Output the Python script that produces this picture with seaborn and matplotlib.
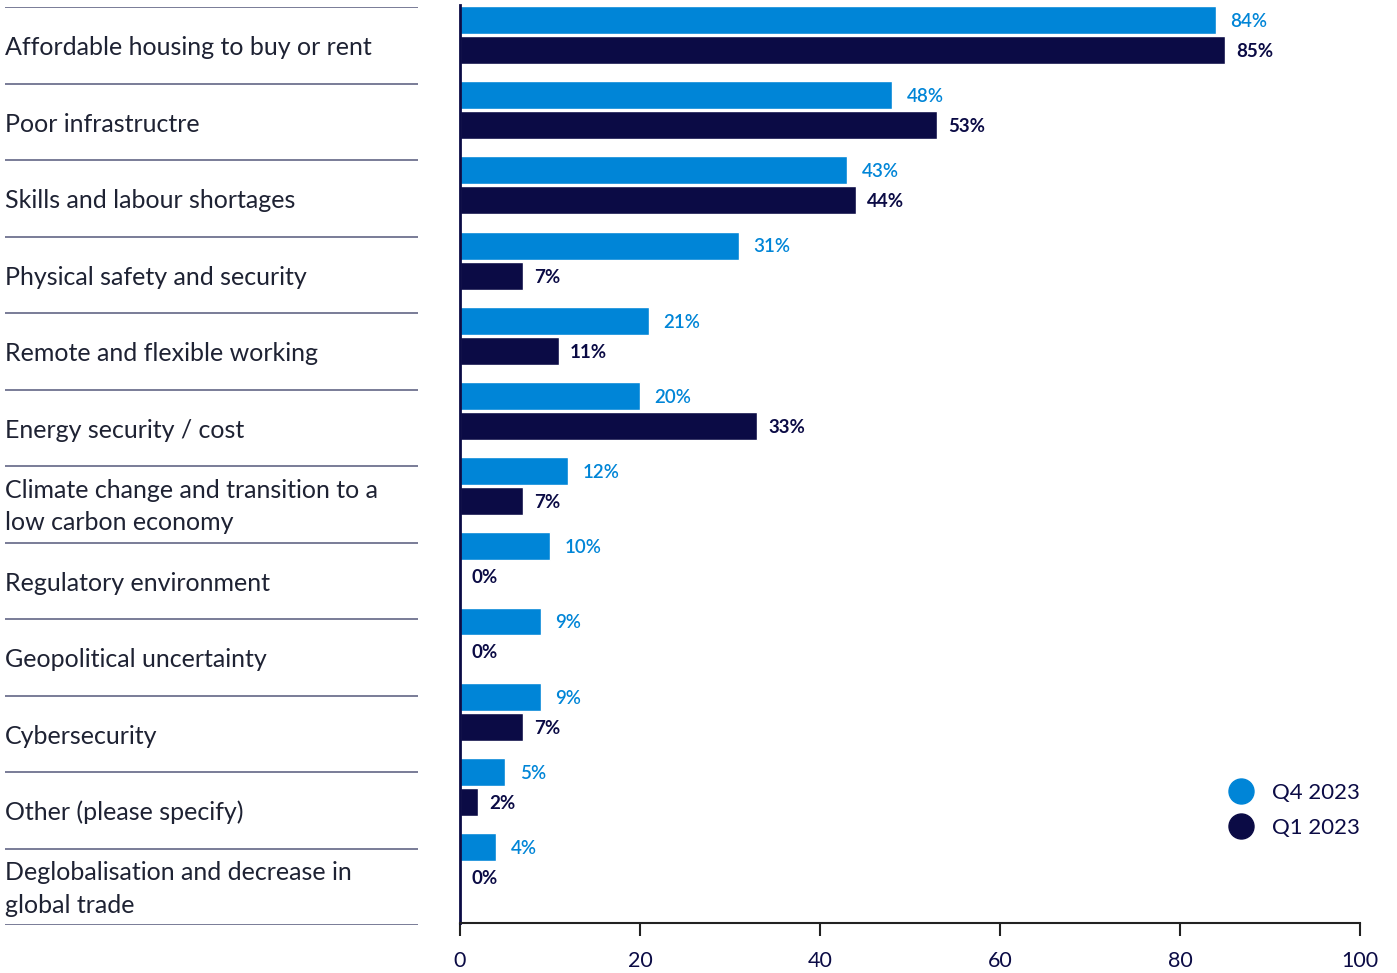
import matplotlib
matplotlib.use("Agg")
import matplotlib.pyplot as plt
from matplotlib.lines import Line2D
import seaborn as sns
import pandas as pd

categories = [
    "Affordable housing to buy or rent",
    "Poor infrastructre",
    "Skills and labour shortages",
    "Physical safety and security",
    "Remote and flexible working",
    "Energy security / cost",
    "Climate change and transition to a\nlow carbon economy",
    "Regulatory environment",
    "Geopolitical uncertainty",
    "Cybersecurity",
    "Other (please specify)",
    "Deglobalisation and decrease in\nglobal trade",
]
q4_2023 = [84, 48, 43, 31, 21, 20, 12, 10, 9, 9, 5, 4]
q1_2023 = [85, 53, 44, 7, 11, 33, 7, 0, 0, 7, 2, 0]
series = ["Q4 2023", "Q1 2023"]
x_ticks = [0, 20, 40, 60, 80, 100]

BLUE = "#0085D7"
NAVY = "#0B0B45"
TEXT = "#1E2233"

df = pd.DataFrame({
    "category": categories * 2,
    "period": [series[0]] * len(categories) + [series[1]] * len(categories),
    "value": q4_2023 + q1_2023,
})

sns.set_theme(style="white")
plt.rcParams["font.family"] = ["Lato", "DejaVu Sans"]

W, H = 1397, 973
fig = plt.figure(figsize=(W / 100, H / 100), dpi=100)

# main bar panel
ax = fig.add_axes([460 / W, (H - 923) / H, 900 / W, 918 / H])
sns.barplot(data=df, y="category", x="value", hue="period", order=categories,
            hue_order=series, palette=[BLUE, NAVY], orient="h",
            width=0.8, gap=0.07, saturation=1, legend=False, ax=ax)

ax.set_xlim(0, 100)
ax.set_ylim(11.81, -0.40)
ax.set_xticks(x_ticks)
ax.set_xticklabels([str(t) for t in x_ticks], fontsize=15.5, color=NAVY)
ax.set_yticks([])
ax.set_xlabel("")
ax.set_ylabel("")
ax.tick_params(axis="x", direction="out", length=9, width=1.5, color="#222222",
               pad=11, bottom=True)
for side in ["top", "right"]:
    ax.spines[side].set_visible(False)
ax.spines["bottom"].set_color("#222222")
ax.spines["bottom"].set_linewidth(1.5)
ax.spines["left"].set_color(NAVY)
ax.spines["left"].set_linewidth(2)

# value labels
for container, vals, color, weight, off in zip(
        ax.containers, [q4_2023, q1_2023], [BLUE, NAVY], ["semibold", "bold"], [10.5, 8]):
    for bar, v in zip(container, vals):
        ax.annotate(f"{v}%", xy=(bar.get_width(), bar.get_y() + bar.get_height() / 2),
                    xytext=(off, -1), textcoords="offset points",
                    ha="left", va="center", fontsize=13.5, color=color, fontweight=weight)

# legend
handles = [Line2D([], [], marker="o", linestyle="", markersize=18, color=c)
           for c in [BLUE, NAVY]]
leg = ax.legend(handles, series, loc="lower right", bbox_to_anchor=(1.0, 0.093),
                frameon=False, fontsize=16, handletextpad=0.9, labelspacing=0.65,
                handlelength=1.0, borderpad=0, borderaxespad=0)
for t in leg.get_texts():
    t.set_color(NAVY)

# category label column with separators
lab = fig.add_axes([5 / W, (H - 925) / H, 413 / W, 918 / H])
lab.set_xlim(0, 1)
lab.set_ylim(len(categories), 0)
lab.axis("off")
for i, name in enumerate(categories):
    lab.text(0, i + 0.53, name, ha="left", va="center", fontsize=18, color=TEXT,
             linespacing=1.5)
for i in range(len(categories) + 1):
    lab.axhline(i, color="#55597A", linewidth=1.1)

fig.savefig("out.png", dpi=100)
